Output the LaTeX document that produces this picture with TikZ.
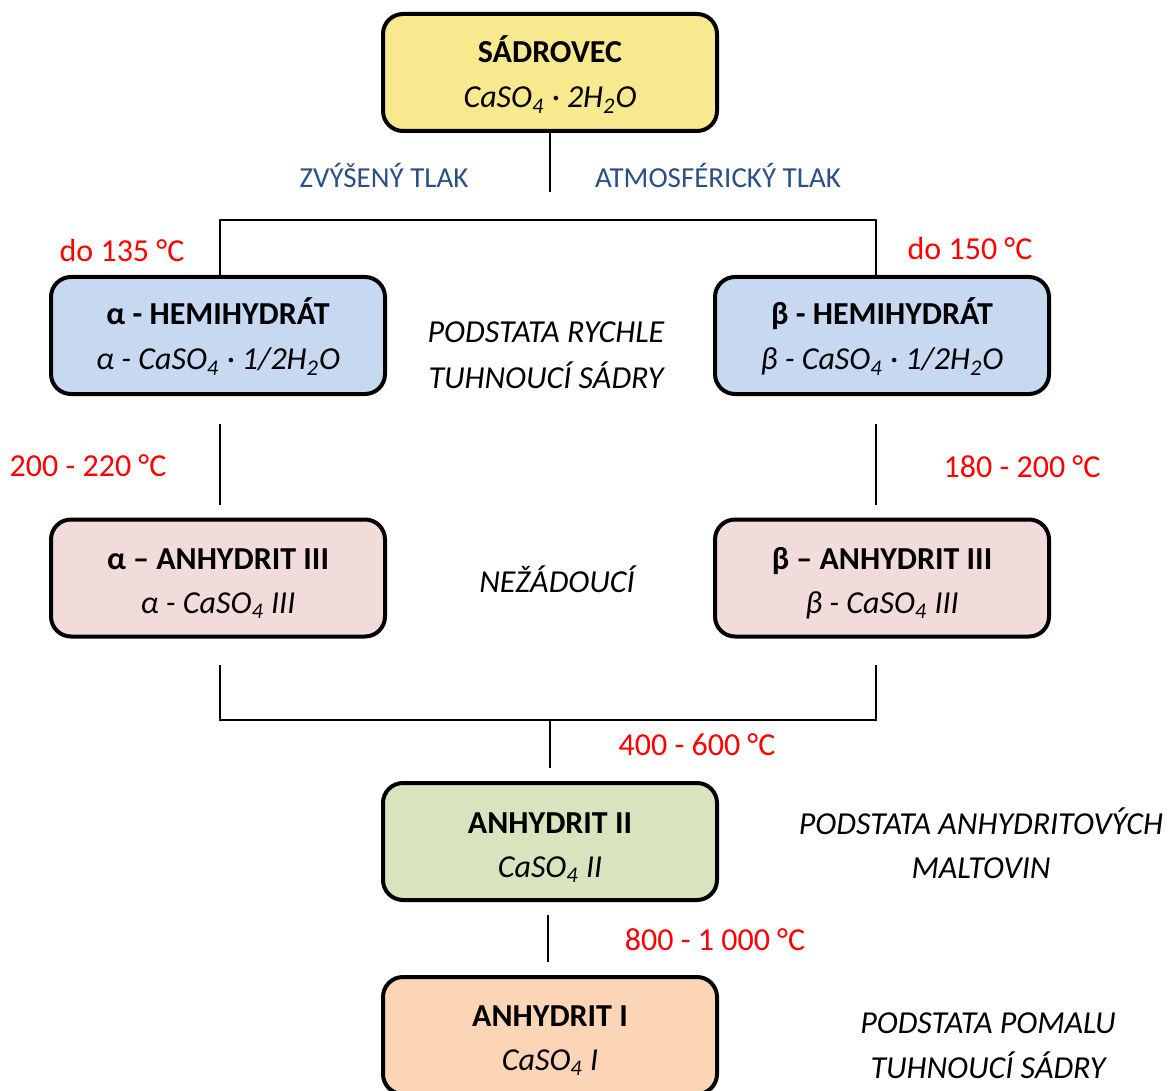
\documentclass[tikz,border=0pt]{standalone}
\usepackage{fontspec}
\setmainfont{Carlito}
\definecolor{yel}{HTML}{F9E98E}
\definecolor{blu}{HTML}{C6D9F1}
\definecolor{pnk}{HTML}{F2DCDB}
\definecolor{grn}{HTML}{D7E4BD}
\definecolor{org}{HTML}{FBD5B5}
\definecolor{lblue}{HTML}{2A4F87}
\definecolor{tred}{HTML}{FF0000}
\begin{document}
\begin{tikzpicture}[x=0.5pt,y=-0.5pt,
  box/.style={draw=black, line width=2pt, rounded corners=10pt, minimum width=167pt, minimum height=58.5pt, inner sep=0pt},
  ttl/.style={anchor=base, inner sep=0pt, font=\fontsize{16}{19}\selectfont\bfseries},
  frm/.style={anchor=base, inner sep=0pt, font=\fontsize{16}{19}\selectfont\itshape},
  note/.style={anchor=base, inner sep=0pt, font=\fontsize{16}{19}\selectfont\itshape},
  prs/.style={anchor=base, inner sep=0pt, text=lblue, font=\fontsize{14.5}{17}\selectfont},
  tmp/.style={anchor=base, inner sep=0pt, text=tred, font=\fontsize{16}{19}\selectfont},
  conn/.style={line width=1.2pt, draw=black}]
\useasboundingbox (0,0) rectangle (1170,1090);
\clip (0,0) rectangle (1170,1090);
% boxes
\node[box, fill=yel] (sad) at (550,72.5) {};
\node[box, fill=blu] (ah) at (218,335.5) {};
\node[box, fill=blu] (bh) at (882,335.5) {};
\node[box, fill=pnk] (aa) at (218,578) {};
\node[box, fill=pnk] (ba) at (882,578) {};
\node[box, fill=grn] (a2) at (550,841.5) {};
\node[box, fill=org] (a1) at (550,1035.5) {};
% box texts
\node[ttl] (sadt) at (550,63) {SÁDROVEC};
\node[frm] (sadf) at (550,108) {CaSO\textsubscript{4} · 2H\textsubscript{2}O};
\node[ttl] (aht) at (218,325) {α - HEMIHYDRÁT};
\node[frm] (ahf) at (218,370) {α - CaSO\textsubscript{4} · 1/2H\textsubscript{2}O};
\node[ttl] (bht) at (882,325) {β - HEMIHYDRÁT};
\node[frm] (bhf) at (882,370) {β - CaSO\textsubscript{4} · 1/2H\textsubscript{2}O};
\node[ttl] (aat) at (218,569) {α – ANHYDRIT III};
\node[frm] (aaf) at (218,613) {α - CaSO\textsubscript{4} III};
\node[ttl] (bat) at (882,569) {β – ANHYDRIT III};
\node[frm] (baf) at (882,613) {β - CaSO\textsubscript{4} III};
\node[ttl] (a2t) at (550,833) {ANHYDRIT II};
\node[frm] (a2f) at (550,877) {CaSO\textsubscript{4} II};
\node[ttl] (a1t) at (550,1026) {ANHYDRIT I};
\node[frm] (a1f) at (550,1070) {CaSO\textsubscript{4} I};
% labels
\node[prs] (zt) at (384,188) {ZVÝŠENÝ TLAK};
\node[prs] (at) at (718,188) {ATMOSFÉRICKÝ TLAK};
\node[tmp] (t1) at (122,262) {do 135 °C};
\node[tmp] (t2) at (970,260) {do 150 °C};
\node[tmp] (t3) at (88,476) {200 - 220 °C};
\node[tmp] (t4) at (1022,477) {180 - 200 °C};
\node[tmp] (t5) at (697,755) {400 - 600 °C};
\node[tmp] (t6) at (715,950) {800 - 1 000 °C};
\node[note] (n1a) at (546,343) {PODSTATA RYCHLE};
\node[note] (n1b) at (546,388) {TUHNOUCÍ SÁDRY};
\node[note] (n2) at (557,592) {NEŽÁDOUCÍ};
\node[note] (n3a) at (981,834) {PODSTATA ANHYDRITOVÝCH};
\node[note] (n3b) at (981,878) {MALTOVIN};
\node[note] (n4a) at (988,1033) {PODSTATA POMALU};
\node[note] (n4b) at (988,1078) {TUHNOUCÍ SÁDRY};
% connector points
\coordinate (s1) at (550,192);
\coordinate (jl) at (220,220);
\coordinate (jr) at (876,220);
\coordinate (l1) at (220,424);
\coordinate (l2) at (220,505);
\coordinate (r1) at (876,424);
\coordinate (r2) at (876,505);
\coordinate (l3) at (220,665);
\coordinate (l4) at (220,720);
\coordinate (r3) at (876,665);
\coordinate (r4) at (876,720);
\coordinate (m4) at (550,720);
\coordinate (m5) at (550,768);
\coordinate (m6) at (548,915);
\coordinate (m7) at (548,962);
% connectors
\draw[conn] (sad.south) -- (s1);
\draw[conn] (ah.north -| jl) -- (jl) -- (jr) -- (bh.north -| jr);
\draw[conn] (l1) -- (l2);
\draw[conn] (r1) -- (r2);
\draw[conn] (l3) -- (l4) -- (r4) -- (r3);
\draw[conn] (m4) -- (m5);
\draw[conn] (m6) -- (m7);
\end{tikzpicture}
\end{document}
